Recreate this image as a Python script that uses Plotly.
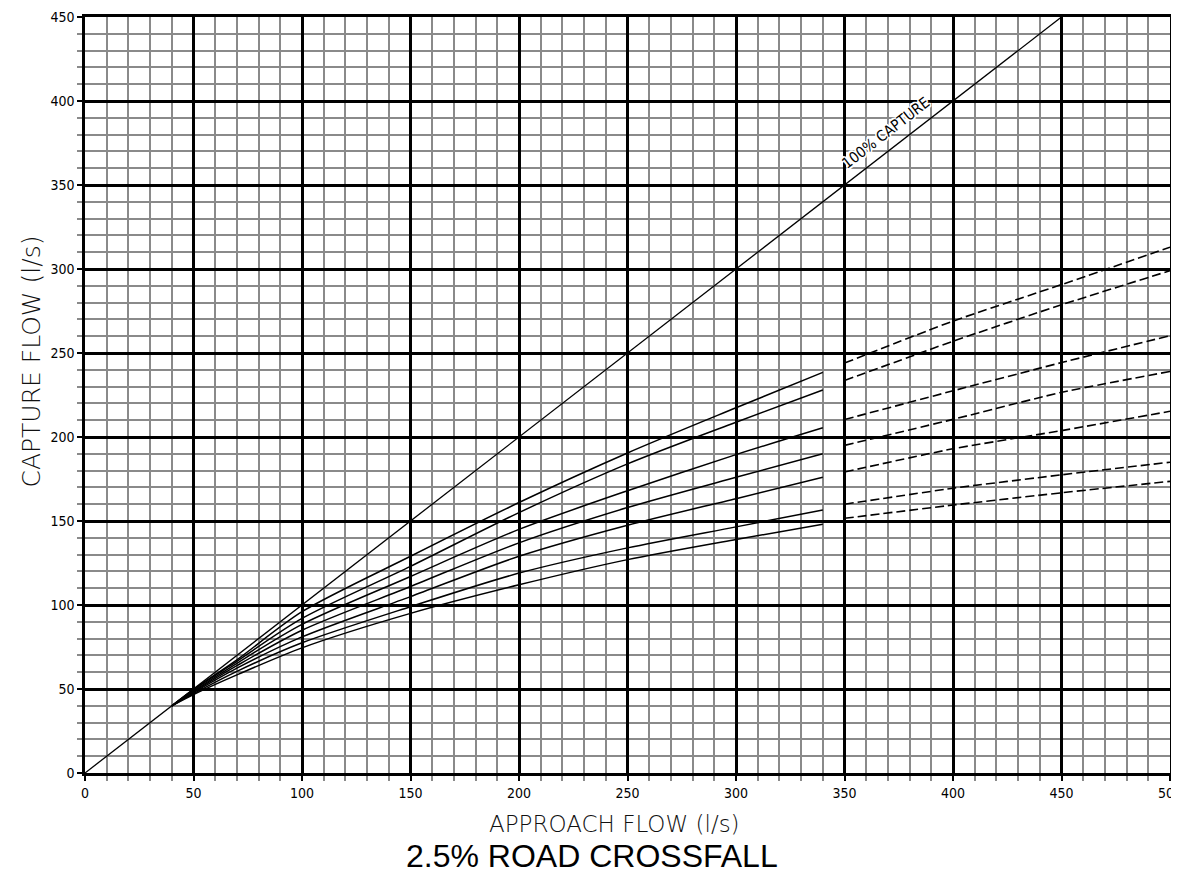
import plotly.graph_objects as go

# ---- data ----
approach_solid = [40, 50, 70, 100, 150, 200, 250, 300, 340]
capture_solid = {
    "c1": [40, 49.8, 67.4, 96.0, 129.0, 161.0, 190.5, 217.4, 238.5],
    "c2": [40, 49.3, 66.5, 92.0, 123.0, 155.0, 184.0, 208.8, 228.0],
    "c3": [40, 48.8, 65.3, 88.5, 117.0, 145.0, 168.0, 189.5, 205.5],
    "c4": [40, 48.3, 63.9, 85.0, 111.0, 137.0, 158.0, 176.0, 190.0],
    "c5": [40, 47.8, 62.4, 81.0, 105.0, 129.0, 147.5, 163.3, 176.0],
    "c6": [40, 47.2, 60.5, 77.5, 99.0, 119.0, 134.0, 146.5, 156.5],
    "c7": [40, 46.7, 58.4, 74.5, 95.0, 112.0, 127.0, 139.0, 148.0],
}
approach_dash = [350, 400, 450, 500]
capture_dash = {
    "c1": [244.0, 269.0, 290.7, 313.0],
    "c2": [233.6, 257.0, 278.7, 299.0],
    "c3": [210.4, 227.5, 244.3, 260.3],
    "c4": [195.0, 210.5, 226.6, 239.0],
    "c5": [179.2, 193.0, 203.8, 215.3],
    "c6": [160.0, 169.5, 177.5, 185.0],
    "c7": [151.6, 159.5, 166.8, 173.6],
}
full_capture_x = [0, 450]
full_capture_y = [0, 450]

x_range = [0, 500]
y_range = [0, 450]

TICK_FONT = "DejaVu Sans Condensed, DejaVu Sans, sans-serif"
TITLE_FONT = "DejaVu Sans, sans-serif"

fig = go.Figure()

fig.add_trace(go.Scatter(x=full_capture_x, y=full_capture_y, mode="lines",
                         line=dict(color="black", width=1.3), showlegend=False,
                         hoverinfo="skip"))

for k, ys in capture_solid.items():
    fig.add_trace(go.Scatter(x=approach_solid, y=ys, mode="lines",
                             line=dict(color="black", width=1.5, shape="spline", smoothing=0.8),
                             showlegend=False, hoverinfo="skip"))

for k, ys in capture_dash.items():
    fig.add_trace(go.Scatter(x=approach_dash, y=ys, mode="lines",
                             line=dict(color="black", width=1.6, dash="9px,4px",
                                       shape="spline", smoothing=0.5),
                             showlegend=False, hoverinfo="skip"))

axis_common = dict(
    showgrid=True, gridcolor="black", gridwidth=2.5,
    zeroline=False, showline=True, linecolor="black", linewidth=2.5, mirror=True,
    ticks="outside", ticklen=5, tickwidth=2, tickcolor="black",
    tickfont=dict(family=TICK_FONT, size=14, color="black"),
    ticklabeloverflow="allow",
    minor=dict(dtick=10, showgrid=True, gridcolor="#8a8a8a", gridwidth=1.8,
               ticks="outside", ticklen=5, tickwidth=1.5, tickcolor="#8a8a8a"),
    automargin=False, layer="below traces",
)

fig.update_xaxes(range=x_range, dtick=50, tick0=0, **axis_common)
fig.update_yaxes(range=y_range, dtick=50, tick0=0, **axis_common)

halo = ",".join(f"white {dx}px {dy}px 0px" for dx, dy in
                [(1, 0), (-1, 0), (0, 1), (0, -1), (1, 1), (-1, -1), (1, -1), (-1, 1),
                 (2, 0), (-2, 0), (0, 2), (0, -2)])

fig.update_layout(
    width=1163, height=868,
    margin=dict(l=77, r=1, t=9, b=103),
    plot_bgcolor="white", paper_bgcolor="white",
    annotations=[
        dict(text="100% CAPTURE", x=369, y=381, xref="x", yref="y",
             showarrow=False, textangle=-37.7,
             font=dict(family=TICK_FONT, size=15, color="black", shadow=halo)),
        dict(text="APPROACH FLOW (l/s)", x=0.488, y=-0.068, xref="paper", yref="paper",
             showarrow=False, xanchor="center", yanchor="middle",
             font=dict(family=TITLE_FONT, size=23, color="#111", weight=200)),
        dict(text="CAPTURE FLOW (l/s)", x=-0.049, y=0.544, xref="paper", yref="paper",
             showarrow=False, xanchor="center", yanchor="middle", textangle=-90,
             font=dict(family=TITLE_FONT, size=25, color="#111", weight=200)),
        dict(text="2.5% ROAD CROSSFALL", x=0.467, y=-0.1356, xref="paper", yref="paper",
             showarrow=False, xanchor="center", yanchor="bottom",
             font=dict(family="Liberation Sans, Arial, sans-serif", size=32, color="black")),
    ],
)

fig.write_html("out.html")
